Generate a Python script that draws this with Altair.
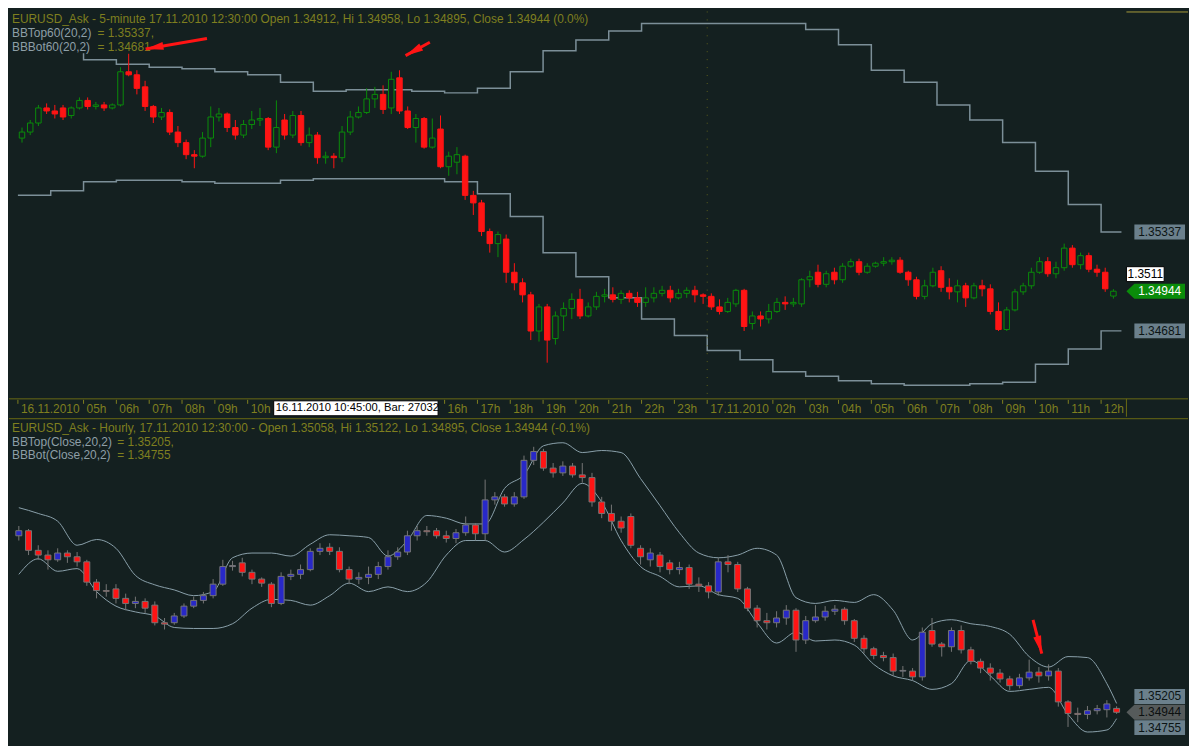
import altair as alt
import pandas as pd

FONT = "Liberation Sans"
BG = "#142020"
OLIVE = "#7f7f1f"
AXIS_C = "#6a6a14"
GRID = "#5d5f1c"
GREEN = "#0a8c0a"
RED = "#ff1414"
BLUE = "#2828c8"
CANDLE_GRAY = "#767676"
BAND_TOP = "#7c8f98"
BAND_BOT = "#8aa0aa"
LABEL_GRAY = "#8e9fa7"
BOX_GRAY = "#6b808c"

W = 1125
H1 = 390
H2 = 327
STRIP = 18

# ---------------- top panel: EURUSD 5-minute view (drawn as 15-minute candles)
# prices in pips above 1.3400, first candle at 03:00 on 16.11.2010
TOP_BASE = 1.3400
top_open = [196, 200, 206, 216, 214, 216, 211, 216, 221, 217,
            218, 216, 218, 240, 238, 230, 217, 210, 213, 200,
            193, 185, 184, 196, 210, 212, 203, 198, 205, 208,
            209, 190, 208, 198, 211, 193, 198, 183, 184, 183,
            200, 210, 213, 222, 225, 216, 236, 214, 203, 209,
            190, 202, 177, 180, 184, 158, 153, 134, 126, 129,
            107, 100, 92, 68, 84, 63, 78, 83, 89, 78,
            84, 91, 92, 89, 93, 90, 87, 90, 93, 95,
            90, 93, 95, 92, 91, 84, 81, 86, 95, 73,
            78, 76, 81, 87, 86, 86, 102, 107, 99, 107,
            102, 111, 114, 107, 111, 113, 114, 115, 107, 102,
            91, 98, 108, 97, 94, 98, 90, 98, 96, 81,
            69, 82, 94, 98, 107, 114, 106, 110, 123, 112,
            118, 109, 107, 91.2]
top_high = [203, 208, 218, 219, 218, 218, 217, 223, 223, 220,
            220, 219, 243, 252, 241, 234, 218, 216, 215, 204,
            195, 188, 200, 217, 216, 213, 208, 208, 214, 216,
            210, 221, 212, 214, 214, 203, 200, 187, 186, 204,
            214, 217, 229, 230, 231, 240, 241, 217, 212, 210,
            209, 211, 187, 190, 185, 161, 155, 136, 134, 132,
            113, 103, 94, 86, 86, 81, 87, 93, 96, 87,
            94, 96, 97, 95, 95, 94, 97, 97, 98, 98,
            96, 97, 98, 93, 93, 89, 90, 96, 96, 81,
            81, 86, 90, 91, 90, 103, 108, 112, 108, 110,
            113, 116, 116, 113, 114, 117, 117, 117, 108, 104,
            102, 110, 111, 103, 102, 100, 100, 102, 99, 87,
            84, 96, 100, 110, 117, 117, 114, 126, 125, 120,
            120, 112, 110, 95.8]
top_low = [193, 198, 204, 212, 209, 208, 209, 215, 215, 215,
           214, 215, 217, 237, 225, 214, 206, 208, 198, 190,
           182, 176, 183, 190, 207, 200, 195, 196, 202, 204,
           188, 186, 195, 196, 191, 190, 179, 179, 176, 180,
           198, 209, 212, 216, 212, 212, 212, 202, 193, 189,
           189, 176, 171, 172, 155, 145, 131, 120, 117, 100,
           95, 87, 62, 61, 47, 59, 68, 76, 76, 77,
           82, 87, 87, 86, 87, 84, 84, 87, 91, 87,
           89, 90, 87, 86, 82, 79, 80, 84, 68, 69,
           71, 73, 80, 82, 84, 84, 97, 97, 97, 99,
           100, 110, 105, 106, 110, 111, 112, 106, 98, 89,
           89, 97, 94, 89, 87, 84, 89, 91, 79, 68,
           68, 81, 92, 96, 106, 104, 103, 108, 110, 109,
           107, 104, 94, 89.5]
top_close = [200, 206, 216, 214, 212, 210, 216, 221, 217, 218,
             216, 218, 240, 238, 229, 217, 210, 213, 200, 193,
             185, 184, 196, 210, 212, 203, 198, 205, 208, 209,
             190, 203, 198, 211, 193, 198, 183, 184, 183, 200,
             210, 213, 222, 225, 215, 235, 214, 203, 209, 190,
             196, 177, 184, 185, 158, 153, 134, 126, 132, 107,
             100, 92, 68, 84, 62, 78, 83, 89, 78, 84,
             91, 92, 89, 93, 90, 87, 90, 93, 95, 90,
             93, 95, 92, 91, 84, 81, 87, 95, 71, 78,
             76, 81, 87, 86, 87, 102, 104, 99, 106, 102,
             111, 114, 107, 111, 113, 114, 115, 107, 102, 91,
             98, 107, 97, 94, 98, 90, 98, 96, 81, 69,
             82, 94, 98, 107, 114, 106, 110, 123, 112, 118,
             109, 107, 96, 94.4]

# hourly Bollinger bands (20,2) shown as steps, one value per hour from 03h 16.11.2010
top_band_upper = [1.3656, 1.3656, 1.3648, 1.3645, 1.3643, 1.3642, 1.3640, 1.3638, 1.3633, 1.3627,
                  1.3628, 1.3628, 1.3627, 1.3626, 1.3629, 1.3640, 1.3654, 1.3661, 1.3667, 1.3672,
                  1.3672, 1.3672, 1.3672, 1.3672, 1.3668, 1.3658, 1.3641, 1.3633, 1.3618, 1.3608,
                  1.3593, 1.3574, 1.3552, 1.35337]
top_band_lower = [1.3558, 1.3561, 1.3567, 1.3568, 1.3568, 1.3567, 1.3566, 1.3566, 1.3568, 1.3569,
                  1.3569, 1.3569, 1.3569, 1.3567, 1.3559, 1.3544, 1.3520, 1.3504, 1.3490, 1.3476,
                  1.3465, 1.3455, 1.3449, 1.3441, 1.3438, 1.3435, 1.3433, 1.3432, 1.3432, 1.3433,
                  1.3434, 1.3446, 1.3456, 1.34681]

# time-axis labels (hours since 03h on 16.11.2010 -> label); 11h-15h sit under the cursor box
tick_hours = [0, 2, 3, 4, 5, 6, 7, 13, 14, 15, 16, 17, 18, 19, 20,
              21, 23, 24, 25, 26, 27, 28, 29, 30, 31, 32, 33]
time_labels = ["16.11.2010", "05h", "06h", "07h", "08h", "09h", "10h", "16h", "17h", "18h",
               "19h", "20h", "21h", "22h", "23h", "17.11.2010", "02h", "03h", "04h", "05h",
               "06h", "07h", "08h", "09h", "10h", "11h", "12h"]
top_ticks = [1.3440, 1.3480, 1.3520, 1.3560, 1.3600, 1.3640]

# ---------------- bottom panel: EURUSD hourly (drawn as 3-hour candles)
bot_open = [1.4016, 1.4031, 1.3973, 1.3959, 1.3945, 1.3965, 1.3954, 1.3939, 1.3879, 1.3854,
            1.3859, 1.3831, 1.3816, 1.3822, 1.3811, 1.3759, 1.3759, 1.3779, 1.3808, 1.3825,
            1.3839, 1.3873, 1.3925, 1.3936, 1.3908, 1.3888, 1.3873, 1.3816, 1.3896, 1.3902,
            1.3916, 1.3970, 1.3982, 1.3970, 1.3916, 1.3888, 1.3893, 1.3902, 1.3925, 1.3954,
            1.3968, 1.4016, 1.4031, 1.4031, 1.4016, 1.4008, 1.4025, 1.4048, 1.4022, 1.4122,
            1.4131, 1.4110, 1.4131, 1.4239, 1.4265, 1.4216, 1.4202, 1.4222, 1.4196, 1.4188,
            1.4116, 1.4082, 1.4059, 1.4073, 1.3979, 1.3945, 1.3959, 1.3936, 1.3916, 1.3922,
            1.3873, 1.3868, 1.3850, 1.3939, 1.3931, 1.3859, 1.3802, 1.3765, 1.3759, 1.3773,
            1.3796, 1.3708, 1.3765, 1.3776, 1.3793, 1.3799, 1.3765, 1.3713, 1.3682, 1.3662,
            1.3656, 1.3616, 1.3616, 1.3599, 1.3736, 1.3696, 1.3688, 1.3736, 1.3679, 1.3645,
            1.3625, 1.3610, 1.3593, 1.3573, 1.3596, 1.3613, 1.3602, 1.3616, 1.3525, 1.3491,
            1.3488, 1.3499, 1.3502, 1.35058]
bot_high = [1.4045, 1.4036, 1.3988, 1.3973, 1.3979, 1.3973, 1.3968, 1.3945, 1.3888, 1.3873,
            1.3873, 1.3845, 1.3836, 1.3831, 1.3822, 1.3773, 1.3788, 1.3816, 1.3836, 1.3850,
            1.3888, 1.3945, 1.3942, 1.3951, 1.3916, 1.3893, 1.3879, 1.3908, 1.3916, 1.3931,
            1.3979, 1.3994, 1.3994, 1.3982, 1.3925, 1.3908, 1.3925, 1.3939, 1.3973, 1.3982,
            1.4031, 1.4045, 1.4045, 1.4039, 1.4031, 1.4036, 1.4073, 1.4053, 1.4182, 1.4145,
            1.4139, 1.4145, 1.4253, 1.4279, 1.4273, 1.4231, 1.4236, 1.4231, 1.4231, 1.4202,
            1.4131, 1.4108, 1.4073, 1.4082, 1.3988, 1.3979, 1.3968, 1.3945, 1.3939, 1.3931,
            1.3893, 1.3879, 1.3951, 1.3959, 1.3939, 1.3865, 1.3811, 1.3788, 1.3793, 1.3811,
            1.3802, 1.3779, 1.3811, 1.3808, 1.3811, 1.3805, 1.3770, 1.3722, 1.3688, 1.3673,
            1.3668, 1.3631, 1.3625, 1.3745, 1.3773, 1.3702, 1.3745, 1.3751, 1.3688, 1.3653,
            1.3639, 1.3622, 1.3602, 1.3608, 1.3650, 1.3628, 1.3636, 1.3625, 1.3530, 1.3508,
            1.3513, 1.3516, 1.3530, 1.35122]
bot_low = [1.4002, 1.3959, 1.3945, 1.3916, 1.3939, 1.3936, 1.3925, 1.3868, 1.3831, 1.3836,
           1.3816, 1.3796, 1.3802, 1.3788, 1.3751, 1.3739, 1.3753, 1.3773, 1.3802, 1.3816,
           1.3831, 1.3868, 1.3913, 1.3896, 1.3873, 1.3865, 1.3805, 1.3811, 1.3885, 1.3888,
           1.3911, 1.3959, 1.3959, 1.3908, 1.3873, 1.3873, 1.3873, 1.3888, 1.3916, 1.3945,
           1.3959, 1.4002, 1.4016, 1.4008, 1.3996, 1.3994, 1.4016, 1.4002, 1.4002, 1.4108,
           1.4102, 1.4102, 1.4125, 1.4225, 1.4208, 1.4188, 1.4193, 1.4188, 1.4173, 1.4102,
           1.4068, 1.4031, 1.4025, 1.3979, 1.3931, 1.3925, 1.3908, 1.3902, 1.3902, 1.3859,
           1.3850, 1.3831, 1.3839, 1.3908, 1.3850, 1.3793, 1.3745, 1.3739, 1.3745, 1.3753,
           1.3673, 1.3696, 1.3759, 1.3765, 1.3782, 1.3753, 1.3702, 1.3668, 1.3651, 1.3645,
           1.3602, 1.3599, 1.3588, 1.3588, 1.3688, 1.3659, 1.3673, 1.3668, 1.3636, 1.3610,
           1.3588, 1.3582, 1.3559, 1.3565, 1.3588, 1.3582, 1.3588, 1.3511, 1.3451, 1.3465,
           1.3474, 1.3488, 1.3479, 1.34895]
bot_close = [1.4031, 1.3973, 1.3959, 1.3945, 1.3965, 1.3954, 1.3939, 1.3879, 1.3854, 1.3852,
             1.3831, 1.3816, 1.3822, 1.3802, 1.3759, 1.3755, 1.3779, 1.3808, 1.3825, 1.3839,
             1.3873, 1.3925, 1.3928, 1.3908, 1.3888, 1.3876, 1.3816, 1.3896, 1.3902, 1.3916,
             1.3970, 1.3979, 1.3970, 1.3916, 1.3888, 1.3893, 1.3902, 1.3925, 1.3954, 1.3968,
             1.4016, 1.4031, 1.4028, 1.4016, 1.4008, 1.4025, 1.4048, 1.4022, 1.4122, 1.4131,
             1.4110, 1.4131, 1.4239, 1.4265, 1.4216, 1.4202, 1.4222, 1.4196, 1.4188, 1.4116,
             1.4082, 1.4059, 1.4039, 1.3988, 1.3954, 1.3965, 1.3925, 1.3916, 1.3922, 1.3873,
             1.3868, 1.3850, 1.3939, 1.3931, 1.3859, 1.3802, 1.3765, 1.3759, 1.3773, 1.3796,
             1.3708, 1.3765, 1.3776, 1.3793, 1.3799, 1.3765, 1.3713, 1.3682, 1.3662, 1.3656,
             1.3616, 1.3618, 1.3599, 1.3731, 1.3696, 1.3688, 1.3736, 1.3679, 1.3645, 1.3625,
             1.3610, 1.3593, 1.3573, 1.3596, 1.3613, 1.3602, 1.3616, 1.3525, 1.3491, 1.3488,
             1.3499, 1.3505, 1.3519, 1.34944]

# Bollinger bands (Close,20,2) sampled every second candle, plus the last one
bot_band_upper = [1.4099, 1.4082, 1.4059, 1.3988, 1.4005, 1.3979, 1.3899, 1.3871, 1.3856, 1.3839,
                  1.3851, 1.3951, 1.3965, 1.3965, 1.3956, 1.3991, 1.4019, 1.4016, 1.4011, 1.3956,
                  1.4002, 1.4076, 1.4068, 1.4051, 1.4051, 1.4156, 1.4196, 1.4282, 1.4291, 1.4262,
                  1.4268, 1.4262, 1.4185, 1.4105, 1.4025, 1.3965, 1.3951, 1.3959, 1.3979, 1.3959,
                  1.3833, 1.3816, 1.3825, 1.3819, 1.3842, 1.3796, 1.3708, 1.3756, 1.3768, 1.3756,
                  1.3748, 1.3725, 1.3659, 1.3628, 1.3659, 1.3656, 1.3579, 1.35205]
bot_band_lower = [1.3902, 1.3948, 1.3911, 1.3919, 1.3851, 1.3808, 1.3791, 1.3779, 1.3745, 1.3742,
                  1.3742, 1.3756, 1.3802, 1.3828, 1.3825, 1.3811, 1.3839, 1.3876, 1.3851, 1.3865,
                  1.3851, 1.3879, 1.3959, 1.4002, 1.4002, 1.3968, 1.4005, 1.4056, 1.4113, 1.4171,
                  1.4116, 1.4002, 1.3925, 1.3896, 1.3865, 1.3868, 1.3842, 1.3831, 1.3759, 1.3699,
                  1.3731, 1.3705, 1.3708, 1.3693, 1.3636, 1.3602, 1.3588, 1.3562, 1.3579, 1.3648,
                  1.3602, 1.3556, 1.3562, 1.3568, 1.3488, 1.3436, 1.3442, 1.34755]
bot_ticks = [1.3600, 1.3700, 1.3800, 1.3900, 1.4000, 1.4100, 1.4200, 1.4300]

# red annotation arrows: tail -> head (top panel in hours/price, bottom in candle/price)
top_arrows = {"x0": [5.76, 12.55], "y0": [1.36621, 1.36596],
              "x1": [3.89, 11.81], "y1": [1.36551, 1.36507], "ang": [260, 241]}
bot_arrow = {"x0": [104.4], "y0": [1.37677], "x1": [105.3], "y1": [1.36677], "ang": [165]}

# ---------------- build tables
top_df = pd.DataFrame({
    "t": [0.125 + 0.25 * i for i in range(len(top_close))],
    "open": [TOP_BASE + v / 10000 for v in top_open],
    "high": [TOP_BASE + v / 10000 for v in top_high],
    "low": [TOP_BASE + v / 10000 for v in top_low],
    "close": [TOP_BASE + v / 10000 for v in top_close],
})
top_df["up"] = top_df["close"] >= top_df["open"]

band_hours = list(range(len(top_band_upper))) + [33.62]
top_band_df = pd.concat([
    pd.DataFrame({"h": band_hours, "v": top_band_upper + [top_band_upper[-1]], "band": "upper"}),
    pd.DataFrame({"h": band_hours, "v": top_band_lower + [top_band_lower[-1]], "band": "lower"}),
])
time_df = pd.DataFrame({"h": tick_hours, "lab": time_labels})

bot_df = pd.DataFrame({
    "j": list(range(len(bot_close))),
    "open": bot_open, "high": bot_high, "low": bot_low, "close": bot_close,
})
bot_df["up"] = bot_df["close"] >= bot_df["open"]

band_idx = list(range(0, 113, 2)) + [113]
bot_band_df = pd.concat([
    pd.DataFrame({"j": band_idx, "v": bot_band_upper, "band": "upper"}),
    pd.DataFrame({"j": band_idx, "v": bot_band_lower, "band": "lower"}),
])

ONE = pd.DataFrame({"k": [0]})

TX = alt.Scale(domain=[-0.12, 33.62], nice=False, zero=False)
TY = alt.Scale(domain=[1.3423, 1.3680], nice=False, zero=False)
BX = alt.Scale(domain=[-0.5, 113.5], nice=False, zero=False)
BY = alt.Scale(domain=[1.3402, 1.4362], nice=False, zero=False)


def yaxis(values):
    return alt.Axis(orient="right", values=values, format=".4f", title=None,
                    labelColor=OLIVE, labelFont=FONT, labelFontSize=12, labelPadding=17,
                    tickColor=AXIS_C, tickSize=4, domainColor=AXIS_C, domainWidth=1,
                    grid=True, gridColor=GRID, gridDash=[1, 7], gridWidth=1,
                    labelOverlap=False)


def text_at(text, x, y, color, size=12, align="left"):
    return alt.Chart(ONE).mark_text(text=text, align=align, baseline="middle", font=FONT,
                                    fontSize=size, color=color).encode(
        x=alt.value(x), y=alt.value(y))


def hrule(y, x0, x1, color):
    return alt.Chart(ONE).mark_rule(color=color, strokeWidth=1).encode(
        x=alt.value(x0), x2=alt.value(x1), y=alt.value(y))


def opaque(x0, x1, y0, y1):
    # text in the original is drawn on an opaque cell of background colour
    return alt.Chart(ONE).mark_rect(fill=BG).encode(
        x=alt.value(x0), x2=alt.value(x1), y=alt.value(y0), y2=alt.value(y1))


BOX = "M-1,-0.294L1,-0.294L1,0.294L-1,0.294Z"
ARROWBOX = "M-1.314,0L-1,-0.294L1,-0.294L1,0.294L-1,0.294Z"
WBOX = "M-1,-0.395L1,-0.395L1,0.395L-1,0.395Z"
HEAD = "M0,0L0.45,2L-0.45,2Z"


def price_box(price, label, yscale, fill, text_color, shape=BOX, size=2601, cx=W + 33.5,
              yoff=0, stroke=None):
    d = pd.DataFrame({"p": [price], "lab": [label]})
    pt_kwargs = dict(shape=shape, size=size, filled=True, fill=fill, opacity=1, yOffset=yoff)
    if stroke:
        pt_kwargs.update(stroke=stroke, strokeWidth=1)
    else:
        pt_kwargs.update(strokeWidth=0)
    box = alt.Chart(d).mark_point(**pt_kwargs).encode(
        x=alt.value(cx), y=alt.Y("p:Q", scale=yscale, axis=None))
    txt = alt.Chart(d).mark_text(align="center", baseline="middle", font=FONT, fontSize=12,
                                 color=text_color, yOffset=yoff).encode(
        x=alt.value(cx), y=alt.Y("p:Q", scale=yscale, axis=None), text="lab:N")
    return [box, txt]


def arrows(data, xs, ys):
    d = pd.DataFrame(data)
    layers = [alt.Chart(d).mark_rule(color=RED, strokeWidth=3).encode(
        x=alt.X("x0:Q", scale=xs, axis=None), y=alt.Y("y0:Q", scale=ys, axis=None),
        x2="x1:Q", y2="y1:Q")]
    for i, a in enumerate(data["ang"]):
        di = d.iloc[[i]]
        layers.append(alt.Chart(di).mark_point(shape=HEAD, size=324, filled=True, fill=RED,
                                               opacity=1, strokeWidth=0, angle=a).encode(
            x=alt.X("x1:Q", scale=xs, axis=None), y=alt.Y("y1:Q", scale=ys, axis=None)))
    return layers


up_test = "datum.up"

# ---------------- top panel
t_bands = alt.Chart(top_band_df).mark_line(
    interpolate="step-after", color=BAND_TOP, strokeWidth=1.5).encode(
    x=alt.X("h:Q", scale=TX, axis=None),
    y=alt.Y("v:Q", scale=TY, axis=yaxis(top_ticks)),
    detail="band:N")

t_vgrid = alt.Chart(pd.DataFrame({"t": [21.0]})).mark_rule(
    color=GRID, strokeDash=[1, 7], strokeWidth=1).encode(x=alt.X("t:Q", scale=TX, axis=None))

t_wicks = alt.Chart(top_df).mark_rule(strokeWidth=1).encode(
    x=alt.X("t:Q", scale=TX, axis=None), y=alt.Y("low:Q", scale=TY, axis=None), y2="high:Q",
    color=alt.condition(up_test, alt.value(GREEN), alt.value(RED)))

t_bodies = alt.Chart(top_df).mark_bar(width=5.5, strokeWidth=1).encode(
    x=alt.X("t:Q", scale=TX, axis=None), y=alt.Y("open:Q", scale=TY, axis=None), y2="close:Q",
    fill=alt.condition(up_test, alt.value(BG), alt.value(RED)),
    stroke=alt.condition(up_test, alt.value(GREEN), alt.value(RED)))

# time axis drawn in the strip under the top panel
t_ticks = alt.Chart(time_df).mark_rule(color=OLIVE, strokeWidth=1).encode(
    x=alt.X("h:Q", scale=TX, axis=None), y=alt.value(H1 + 1), y2=alt.value(H1 + 5))
t_labels = alt.Chart(time_df).mark_text(align="left", baseline="middle", dx=3, font=FONT,
                                        fontSize=12, color=OLIVE).encode(
    x=alt.X("h:Q", scale=TX, axis=None), y=alt.value(H1 + 10), text="lab:N")

top_layers = [t_bands, t_vgrid, t_wicks, t_bodies, t_ticks, t_labels]
top_layers += [
    opaque(0, 137, 30, 42),
    text_at("EURUSD_Ask - 5-minute 17.11.2010 12:30:00 Open 1.34912, Hi 1.34958, "
            "Lo 1.34895, Close 1.34944 (0.0%)", 3, 8, OLIVE),
    text_at("BBTop60(20,2)", 3, 22, LABEL_GRAY),
    text_at("= 1.35337,", 89, 22, OLIVE),
    text_at("BBBot60(20,2)", 3, 36, LABEL_GRAY),
    text_at("= 1.34681", 89, 36, OLIVE),
]
top_layers += arrows(top_arrows, TX, TY)
top_layers += price_box(1.35337, "1.35337", TY, BOX_GRAY, "#0c1414")
top_layers += price_box(1.34681, "1.34681", TY, BOX_GRAY, "#0c1414")
top_layers += price_box(1.34944, "1.34944", TY, GREEN, "#ffffff", shape=ARROWBOX)
top_layers += price_box(1.3511, "1.3511", TY, "#ffffff", "#000000", shape=WBOX, size=1444,
                        cx=W + 19, yoff=8, stroke="#000000")
# strip borders and cursor tooltip
top_layers += [
    hrule(H1, 0, W + 62, AXIS_C),
    alt.Chart(ONE).mark_rule(color=AXIS_C).encode(
        x=alt.value(W), y=alt.value(H1), y2=alt.value(H1 + STRIP)),
    hrule(0.5, W, W + 62, "#a89a3a"),
    alt.Chart(ONE).mark_rect(fill="#ffffff", stroke="#000000", strokeWidth=1).encode(
        x=alt.value(266.5), x2=alt.value(432), y=alt.value(H1 + 2), y2=alt.value(H1 + 17)),
    text_at("16.11.2010 10:45:00, Bar: 27032", 268.5, H1 + 9.5, "#000000", size=11.3),
]

top_chart = alt.layer(*top_layers).properties(width=W, height=H1)

# ---------------- bottom panel
b_bands = alt.Chart(bot_band_df).mark_line(
    interpolate="monotone", color=BAND_BOT, strokeWidth=1).encode(
    x=alt.X("j:Q", scale=BX, axis=None),
    y=alt.Y("v:Q", scale=BY, axis=yaxis(bot_ticks)),
    detail="band:N")

b_wicks = alt.Chart(bot_df).mark_rule(strokeWidth=1, color=CANDLE_GRAY).encode(
    x=alt.X("j:Q", scale=BX, axis=None), y=alt.Y("low:Q", scale=BY, axis=None), y2="high:Q")

b_bodies = alt.Chart(bot_df).mark_bar(width=6, strokeWidth=1, stroke=CANDLE_GRAY).encode(
    x=alt.X("j:Q", scale=BX, axis=None), y=alt.Y("open:Q", scale=BY, axis=None), y2="close:Q",
    fill=alt.condition(up_test, alt.value(BLUE), alt.value(RED)))

bot_layers = [b_bands, b_wicks, b_bodies]
bot_layers += [
    text_at("EURUSD_Ask - Hourly, 17.11.2010 12:30:00 - Open 1.35058, Hi 1.35122, "
            "Lo 1.34895, Close 1.34944 (-0.1%)", 3, 9, OLIVE),
    text_at("BBTop(Close,20,2)", 3, 23, LABEL_GRAY),
    text_at("= 1.35205,", 109, 23, OLIVE),
    text_at("BBBot(Close,20,2)", 3, 37, LABEL_GRAY),
    text_at("= 1.34755", 109, 37, OLIVE),
]
bot_layers += arrows(bot_arrow, BX, BY)
bot_layers += price_box(1.35205, "1.35205", BY, BOX_GRAY, "#0c1414", yoff=-7)
bot_layers += price_box(1.34755, "1.34755", BY, BOX_GRAY, "#0c1414", yoff=9)
bot_layers += price_box(1.34944, "1.34944", BY, "#565b5b", "#0c1010", shape=ARROWBOX)
bot_layers += [hrule(0, 0, W + 62, AXIS_C)]

bot_chart = alt.layer(*bot_layers).properties(width=W, height=H2)

chart = alt.vconcat(top_chart, bot_chart, spacing=0).properties(
    background=BG, padding=0
).configure_view(stroke=None)

chart.save("out.html", embed_options={"renderer": "svg", "actions": False})
